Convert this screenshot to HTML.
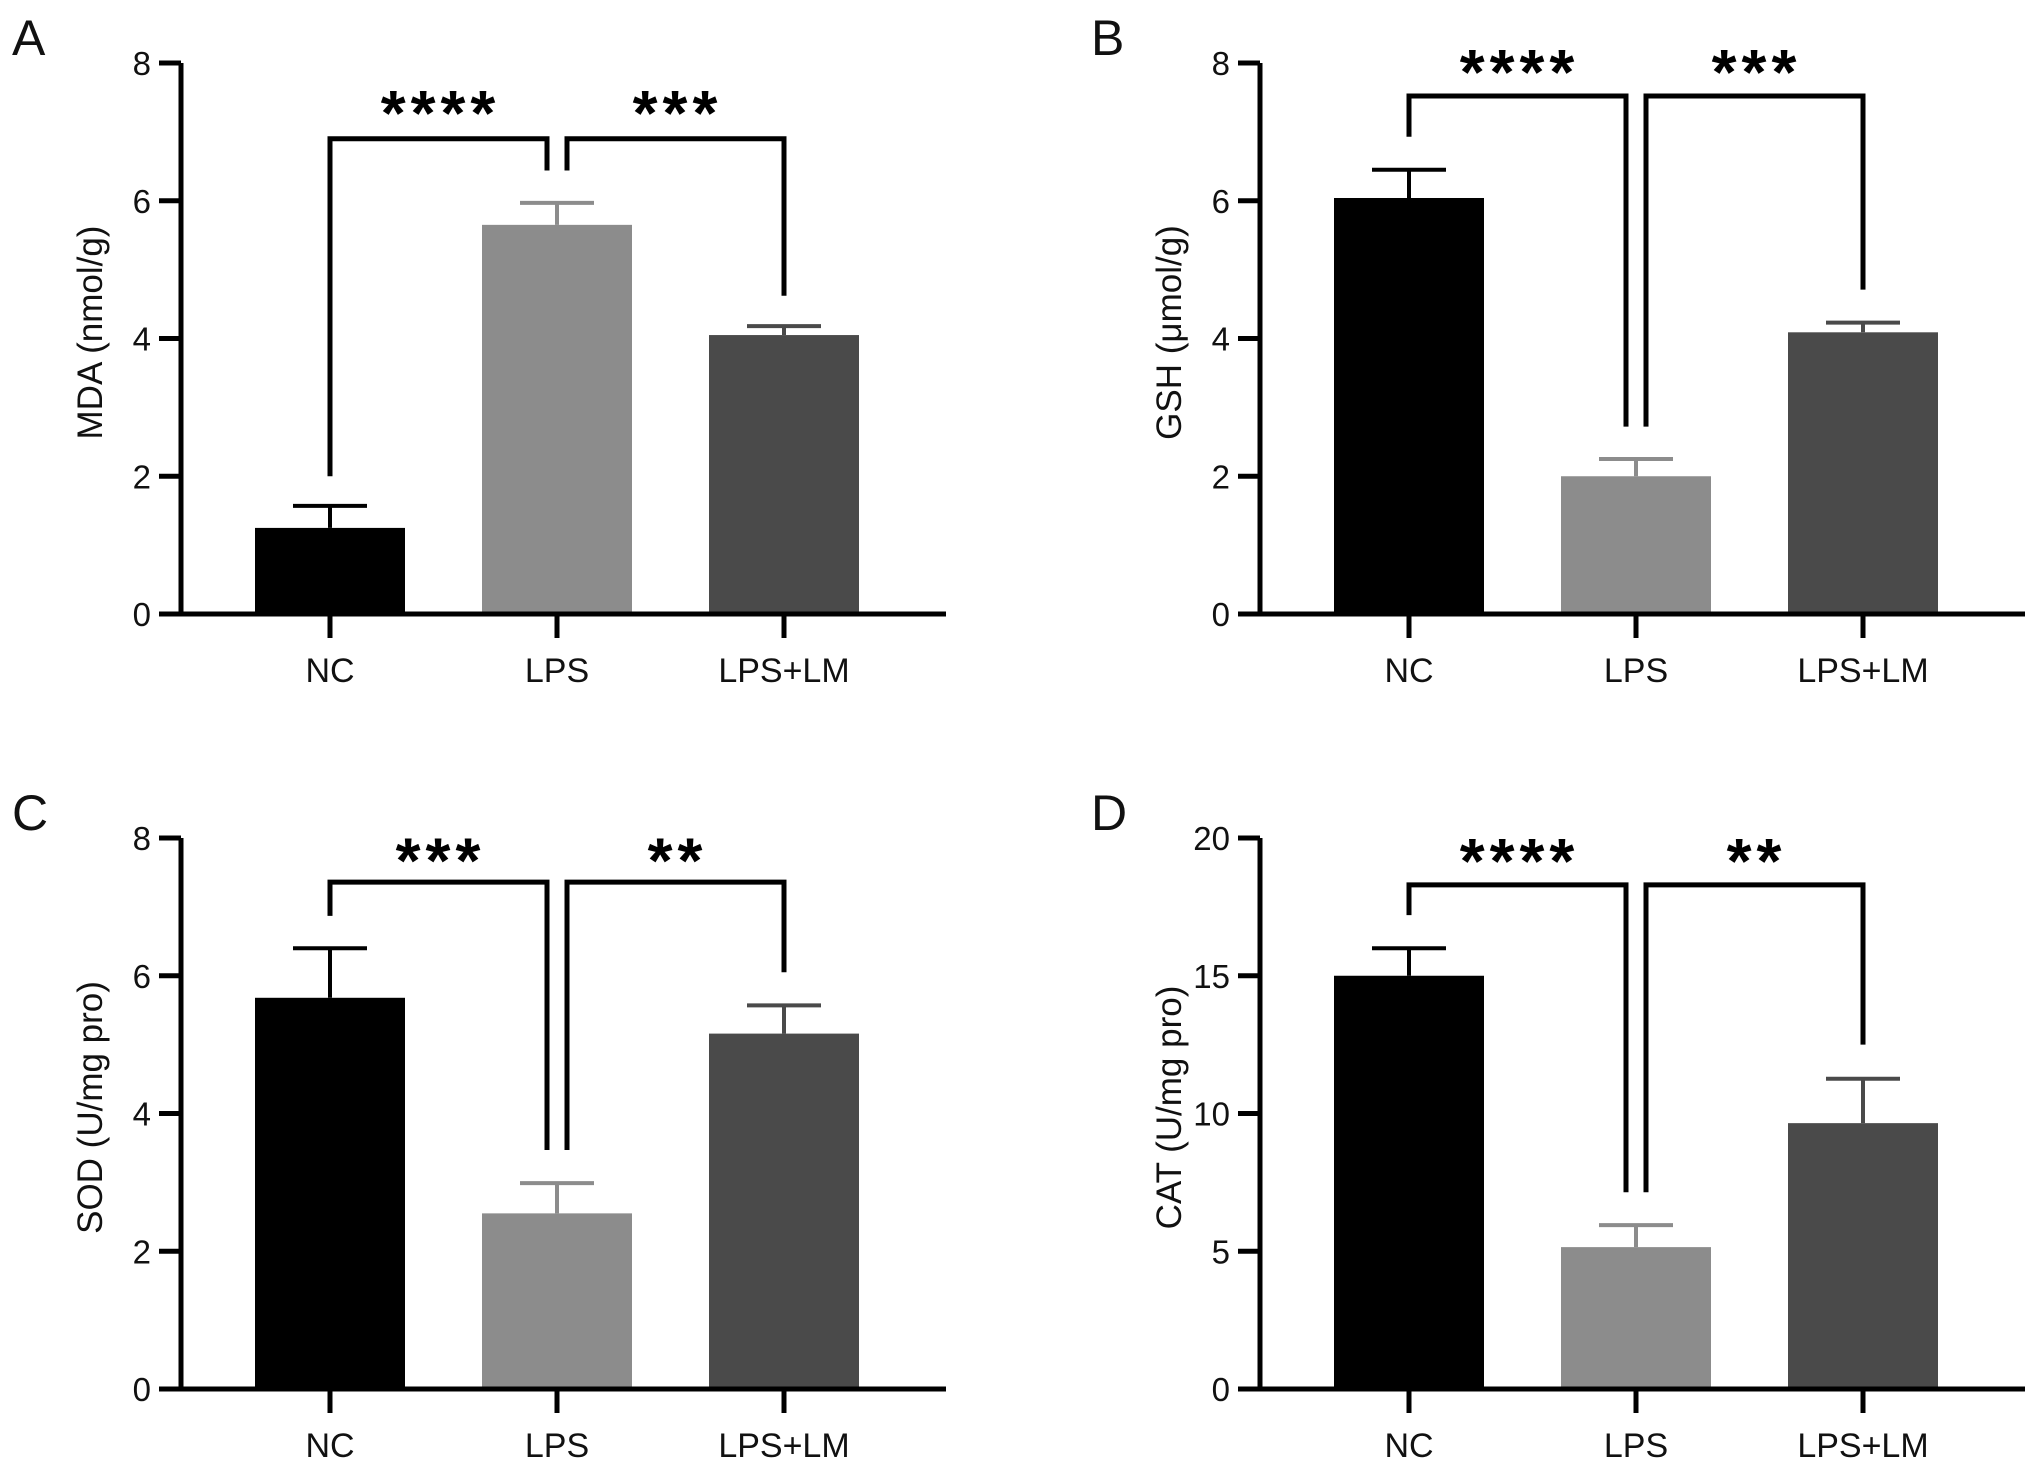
<!DOCTYPE html>
<html><head><meta charset="utf-8">
<style>
html,body{margin:0;padding:0;background:#fff;}
svg{display:block;font-family:"Liberation Sans",Arial,sans-serif;}
</style></head>
<body>
<svg id="fig" width="2032" height="1467" viewBox="0 0 2032 1467" xmlns="http://www.w3.org/2000/svg"></svg>
<script>
const categories = ["NC", "LPS", "LPS+LM"];
const barColors = ["#000000", "#8c8c8c", "#4a4a4a"];

const mdaValues = [1.25, 5.65, 4.05];
const mdaErrors = [1.57, 5.97, 4.18];
const mdaTicks = [0, 2, 4, 6, 8];
const mdaBracketTop = 6.9, mdaLegs = [2.0, 6.44, 6.44, 4.62], mdaStars = ["****", "***"], mdaStarY = 7.45;

const gshValues = [6.04, 2.0, 4.09];
const gshErrors = [6.45, 2.25, 4.23];
const gshTicks = [0, 2, 4, 6, 8];
const gshBracketTop = 7.52, gshLegs = [6.93, 2.72, 2.72, 4.71], gshStars = ["****", "***"], gshStarY = 8.04;

const sodValues = [5.68, 2.55, 5.16];
const sodErrors = [6.4, 2.99, 5.57];
const sodTicks = [0, 2, 4, 6, 8];
const sodBracketTop = 7.36, sodLegs = [6.87, 3.47, 3.47, 6.05], sodStars = ["***", "**"], sodStarY = 7.85;

const catValues = [15.0, 5.15, 9.65];
const catErrors = [16.0, 5.95, 11.26];
const catTicks = [0, 5, 10, 15, 20];
const catBracketTop = 18.3, catLegs = [17.2, 7.14, 7.14, 12.5], catStars = ["****", "**"], catStarY = 19.6;

const NS = "http://www.w3.org/2000/svg";
const svg = document.getElementById("fig");
function mk(tag, attrs, parent) {
  const e = document.createElementNS(NS, tag);
  for (const k in attrs) e.setAttribute(k, attrs[k]);
  (parent || svg).appendChild(e);
  return e;
}

function panel(letter, ox, oy, title, vals, errs, ticks, bTop, legs, stars, starY, key) {
  const g = mk("g", {});
  
  
  const axX = 181 + ox, y0 = 614 + oy, yTop = 63 + oy;
  const ymax = ticks[ticks.length - 1];
  const yS = v => y0 - (v / ymax) * (y0 - yTop);
  const cx = i => 330 + ox + i * 227;
  const bw = 150;

  const L = mk("text", {x: 12 + ox, y: 55 + oy, "font-size": 50, fill: "#111"}, g);
  L.textContent = letter;
  
  

  vals.forEach((v, i) => {
    const r = mk("rect", {x: cx(i) - bw / 2, y: yS(v), width: bw, height: y0 - yS(v), fill: barColors[i]}, g);
    
    
    const eb = mk("path", {d: `M${cx(i)} ${yS(v)}V${yS(errs[i])}M${cx(i) - 37} ${yS(errs[i])}H${cx(i) + 37}`, stroke: barColors[i], "stroke-width": 4, fill: "none"}, g);
    
    
  });

  const ax = mk("path", {d: `M${axX} ${yTop}V${y0}M${axX - 22} ${y0}H${946 + ox}`, stroke: "#000", "stroke-width": 5, fill: "none"}, g);
  
  
  ticks.forEach(t => {
    mk("path", {d: `M${axX - 22} ${yS(t)}H${axX}`, stroke: "#000", "stroke-width": 5}, g);
    const tl = mk("text", {x: axX - 30, y: yS(t) + 12, "font-size": 33, "text-anchor": "end", fill: "#111"}, g);
    tl.textContent = t;
    
    
  });
  categories.forEach((c, i) => {
    mk("path", {d: `M${cx(i)} ${y0}V${y0 + 24}`, stroke: "#000", "stroke-width": 5}, g);
    const cl = mk("text", {x: cx(i), y: y0 + 68, "font-size": 34, "text-anchor": "middle", fill: "#111"}, g);
    cl.textContent = c;
    
    
  });
  const ty = (yTop + y0) / 2 - 6;
  const yt = mk("text", {x: 0, y: 0, "font-size": 35, "text-anchor": "middle", fill: "#111", transform: `translate(${102 + ox},${ty}) rotate(-90)`}, g);
  yt.textContent = title;
  
  

  const bt = yS(bTop);
  const b1 = mk("path", {d: `M${cx(0)} ${yS(legs[0])}V${bt}H${cx(1) - 10}V${yS(legs[1])}`, stroke: "#000", "stroke-width": 5, fill: "none"}, g);
  
  
  const b2 = mk("path", {d: `M${cx(1) + 10} ${yS(legs[2])}V${bt}H${cx(2)}V${yS(legs[3])}`, stroke: "#000", "stroke-width": 5, fill: "none"}, g);
  
  
  const sy = yS(starY);
  [[(cx(0) + cx(1) - 10) / 2, stars[0]], [(cx(1) + 10 + cx(2)) / 2, stars[1]]].forEach((s, j) => {
    const st = mk("text", {x: s[0] + 2, y: sy + 34, "font-size": 64, "font-weight": "bold", "text-anchor": "middle", "letter-spacing": 5, fill: "#000"}, g);
    st.textContent = s[1];
    
    
  });
}

panel("A", 0, 0, "MDA (nmol/g)", mdaValues, mdaErrors, mdaTicks, mdaBracketTop, mdaLegs, mdaStars, mdaStarY, "mda");
panel("B", 1079, 0, "GSH (μmol/g)", gshValues, gshErrors, gshTicks, gshBracketTop, gshLegs, gshStars, gshStarY, "gsh");
panel("C", 0, 775, "SOD (U/mg pro)", sodValues, sodErrors, sodTicks, sodBracketTop, sodLegs, sodStars, sodStarY, "sod");
panel("D", 1079, 775, "CAT (U/mg pro)", catValues, catErrors, catTicks, catBracketTop, catLegs, catStars, catStarY, "cat");
</script>
</body></html>
